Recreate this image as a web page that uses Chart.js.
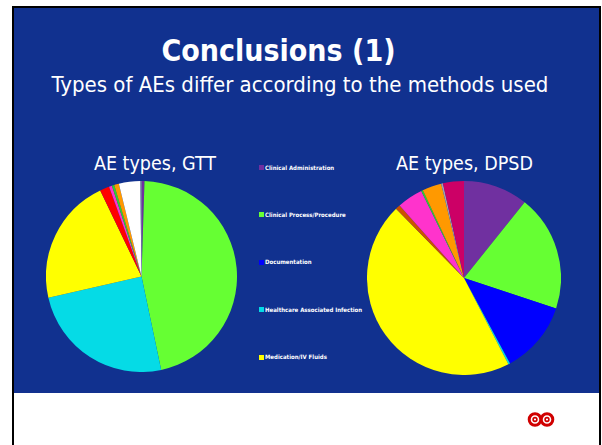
<!DOCTYPE html>
<html>
<head>
<meta charset="utf-8">
<title>Conclusions (1)</title>
<script src="https://cdn.jsdelivr.net/npm/chart.js@4.4.0/dist/chart.umd.min.js"></script>
<style>
    html, body { margin: 0; padding: 0; background: #fff; }
    body {
        width: 602px; height: 445px; position: relative; overflow: hidden;
        font-family: "DejaVu Sans Condensed", "DejaVu Sans", sans-serif;
    }
    .frame {
        position: absolute; left: 12px; top: 6px; width: 585px; height: 450px;
        border-left: 2px solid #000; border-top: 2px solid #000; border-right: 2px solid #000;
    }
    .panel {
        position: absolute; left: 14px; top: 8px; width: 585px; height: 385px;
        background: #11318f;
    }
    .heading {
        position: absolute; left: 0; top: 36px; width: 557px; text-align: center;
        color: #fff; font-weight: bold; font-size: 30px; line-height: 30px;
    }
    .subheading {
        position: absolute; left: 0; top: 74px; width: 600px; text-align: center;
        color: #fff; font-size: 22px; line-height: 22px;
    }
    .pie-title {
        position: absolute; top: 153.5px; width: 200px; text-align: center;
        color: #fff; font-size: 19.5px; line-height: 20px; white-space: nowrap;
    }
    canvas { position: absolute; }
    #gtt-chart { left: 46px; top: 181px; }
    #dpsd-chart { left: 367px; top: 181px; }
    .legend { position: absolute; left: 259px; top: 0; }
    .legend-item {
        position: absolute; left: 0; height: 6px; white-space: nowrap;
        color: #fff; font-weight: bold; font-size: 6px; line-height: 6px;
    }
    .legend-item span.box {
        position: absolute; left: 0; top: 0; width: 5px; height: 5px;
    }
    .legend-item span.text { position: absolute; left: 6px; top: -0.5px; }
    .logo { position: absolute; left: 527px; top: 411px; }
</style>
</head>
<body>
<div class="frame"></div>
<div class="panel"></div>
<div class="heading">Conclusions (1)</div>
<div class="subheading">Types of AEs differ according to the methods used</div>

<div class="pie-title" style="left:55px">AE types, GTT</div>
<div class="pie-title" style="left:364.5px">AE types, DPSD</div>
<canvas id="gtt-chart" width="191" height="191"></canvas>
<canvas id="dpsd-chart" width="194" height="194"></canvas>
<div class="legend" id="legend"></div>

<svg class="logo" width="28" height="17" viewBox="0 0 28 17">
    <circle cx="8" cy="8.5" r="5.8" fill="none" stroke="#d00000" stroke-width="3"/>
    <circle cx="20" cy="8.5" r="5.8" fill="none" stroke="#d00000" stroke-width="3"/>
    <circle cx="8" cy="8.5" r="1.9" fill="none" stroke="#d00000" stroke-width="1.6"/>
    <circle cx="20" cy="8.5" r="1.9" fill="none" stroke="#d00000" stroke-width="1.6"/>
</svg>

<script>
// AE categories (only the first five are named in the slide legend)
const categories = [
    'Clinical Administration',
    'Clinical Process/Procedure',
    'Documentation',
    'Healthcare Associated Infection',
    'Medication/IV Fluids',
    'Blood/Blood Products',
    'Nutrition',
    'Oxygen/Gas/Vapour',
    'Medical Device/Equipment',
    'Behaviour',
    'Patient Accidents',
    'Infrastructure/Building/Fixtures',
    'Resources/Organisational Management'
];

const sliceColors = [
    '#7030a0', '#66ff33', '#0000ff', '#05dbe6', '#ffff00',
    '#ff0000', '#cc5200', '#ff33cc', '#33cc33', '#ff9900',
    '#ffffff', '#a0a0b0', '#cc0066'
];

// share of AEs (%) per category
const gttValues  = [0.5, 46.1, 0, 24.7, 21.4, 1.6, 0, 0.5, 0.4, 0.8, 3.6, 0.2, 0];
const dpsdValues = [10.8, 19.4, 12.1, 0.3, 45.4, 0, 0.8, 4.3, 0.3, 3.2, 0, 0.3, 3.5];

const legendCount = 5;

function makePie(id, values) {
    return new Chart(document.getElementById(id), {
        type: 'pie',
        data: {
            labels: categories,
            datasets: [{
                data: values,
                backgroundColor: sliceColors,
                borderWidth: 0
            }]
        },
        options: {
            responsive: false,
            animation: false,
            plugins: {
                legend: { display: false },
                tooltip: { enabled: false }
            }
        }
    });
}

makePie('gtt-chart', gttValues);
makePie('dpsd-chart', dpsdValues);

// Shared legend in the middle of the slide
const legend = document.getElementById('legend');
categories.slice(0, legendCount).forEach((name, i) => {
    const item = document.createElement('div');
    item.className = 'legend-item';
    item.style.top = (165 + i * 47.4) + 'px';
    item.innerHTML = `<span class="box" style="background:${sliceColors[i]}"></span><span class="text">${name}</span>`;
    legend.appendChild(item);
});
</script>
</body>
</html>
